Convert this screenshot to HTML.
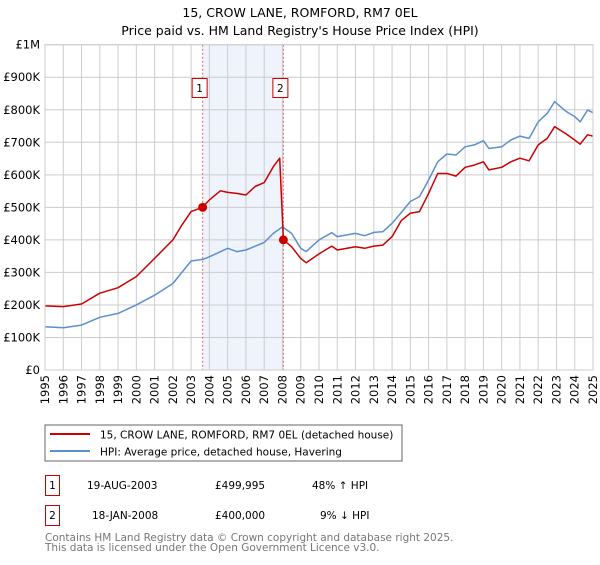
<!DOCTYPE html>
<html><head><meta charset="utf-8"><style>
body{margin:0;background:#fff;font-family:"Liberation Sans","DejaVu Sans",sans-serif;}
svg text{font-family:"DejaVu Sans","Liberation Sans",sans-serif;}
</style></head><body>
<svg id="chart" width="600" height="560" xmlns="http://www.w3.org/2000/svg">
<text x="300" y="17" text-anchor="middle" font-size="12.5" fill="#000">15, CROW LANE, ROMFORD, RM7 0EL</text>
<text x="300" y="35" text-anchor="middle" font-size="12.5" fill="#000">Price paid vs. HM Land Registry's House Price Index (HPI)</text>
<g id="plot"></g>
<rect x="45" y="425" width="357" height="36" fill="#fff" stroke="#666"/>
<line x1="50" y1="434" x2="90" y2="434" stroke="#cc0000" stroke-width="2"/>
<text x="100" y="438.5" font-size="10.5">15, CROW LANE, ROMFORD, RM7 0EL (detached house)</text>
<line x1="50" y1="451" x2="90" y2="451" stroke="#5b8fd0" stroke-width="2"/>
<text x="100" y="455.5" font-size="10.5">HPI: Average price, detached house, Havering</text>
<g font-size="10.5" fill="#000">
<rect x="45.5" y="475.5" width="14" height="20" fill="#fff" stroke="#cc0000"/>
<text x="52.5" y="489" text-anchor="middle">1</text>
<text x="87" y="489">19-AUG-2003</text>
<text x="215" y="489">£499,995</text>
<text x="312" y="489">48% ↑ HPI</text>
<rect x="45.5" y="505.5" width="14" height="20" fill="#fff" stroke="#cc0000"/>
<text x="52.5" y="519" text-anchor="middle">2</text>
<text x="92" y="519">18-JAN-2008</text>
<text x="215" y="519">£400,000</text>
<text x="320" y="519">9% ↓ HPI</text>
</g>
<text x="45" y="541" font-size="10.5" fill="#777">Contains HM Land Registry data © Crown copyright and database right 2025.</text>
<text x="45" y="551" font-size="10.5" fill="#777">This data is licensed under the Open Government Licence v3.0.</text>
</svg>
<script>
const yTicks=[0,100000,200000,300000,400000,500000,600000,700000,800000,900000,1000000];
const yTickLabels=["£0","£100K","£200K","£300K","£400K","£500K","£600K","£700K","£800K","£900K","£1M"];
const xYears=[1995,1996,1997,1998,1999,2000,2001,2002,2003,2004,2005,2006,2007,2008,2009,2010,2011,2012,2013,2014,2015,2016,2017,2018,2019,2020,2021,2022,2023,2024,2025];
const hpiT=[1995,1996,1997,1998,1999,2000,2001,2002,2003,2003.63,2004,2005,2005.5,2006,2007,2007.5,2008,2008.5,2009,2009.3,2010,2010.7,2011,2012,2012.5,2013,2013.5,2014,2014.5,2015,2015.5,2016,2016.5,2017,2017.5,2018,2018.5,2019,2019.3,2020,2020.5,2021,2021.5,2022,2022.5,2022.9,2023.5,2024,2024.3,2024.7,2025];
const hpiV=[133,130,138,162,174,200,230,266,335,340,348,374,364,369,392,420,440,420,374,364,400,422,410,420,413,423,425,451,484,518,533,584,640,664,661,686,692,705,681,686,707,719,712,763,789,825,796,779,763,799,791];
const propT=[1995,1996,1997,1998,1999,2000,2001,2002,2002.5,2003,2003.63,2004,2004.6,2005,2005.5,2006,2006.5,2007,2007.5,2007.85,2008.05,2008.5,2009,2009.3,2010,2010.7,2011,2012,2012.5,2013,2013.5,2014,2014.5,2015,2015.5,2016,2016.5,2017,2017.5,2018,2018.5,2019,2019.3,2020,2020.5,2021,2021.5,2022,2022.5,2022.9,2023.5,2024,2024.3,2024.7,2025];
const propV=[197,195,203,236,253,287,343,400,446,487,500,523,551,546,543,538,564,576,625,651,400,379,343,330,357,381,369,379,374,381,384,410,459,482,487,543,604,604,596,623,630,640,615,623,640,651,643,692,712,748,727,707,694,723,719];
const saleT=[2003.63,2008.05];
const saleV=[499995,400000];
const saleLabels=["1","2"];

const L=45,R=593,T=44.7,B=370;
const xs=t=>L+(t-1995)*(R-L)/30;
const ys=v=>B-v/1000000*(B-T);
const g=document.getElementById('plot');
const NS='http://www.w3.org/2000/svg';
function mk(tag,attrs){const e=document.createElementNS(NS,tag);for(const k in attrs)e.setAttribute(k,attrs[k]);g.appendChild(e);return e;}
let sh=mk('rect',{x:xs(saleT[0]),y:T,width:xs(saleT[1])-xs(saleT[0]),height:B-T,fill:'#eef3fc'});


yTicks.forEach((v,i)=>{
 let l=mk('line',{x1:L,x2:R,y1:ys(v),y2:ys(v),stroke:'#ccc','stroke-width':1});
 
 
 let t=mk('text',{x:L-5,y:ys(v)+4,'text-anchor':'end','font-size':'11.5',fill:'#000'});t.textContent=yTickLabels[i];
 
 
});
xYears.forEach(y=>{
 let l=mk('line',{x1:xs(y),x2:xs(y),y1:T,y2:B,stroke:'#ccc','stroke-width':1});
 
 
 let t=mk('text',{x:0,y:0,'font-size':'11.5','text-anchor':'end',transform:`translate(${xs(y)+4},375) rotate(-90)`});t.textContent=y;
 
 
});
saleT.forEach((t,i)=>{
 let l=mk('line',{x1:xs(t),x2:xs(t),y1:T,y2:B,stroke:'#e06666','stroke-dasharray':'2,2','stroke-width':1});
 
 
 let r=mk('rect',{x:xs(t)-10.5,y:78.5,width:15,height:19,fill:'#fff',stroke:'#cc0000'});
 
 
 let tx=mk('text',{x:xs(t)-3,y:92,'text-anchor':'middle','font-size':'10.5'});tx.textContent=saleLabels[i];
 
 
});
function path(ts,vs,color,name){
 const d=ts.map((t,i)=>(i?'L':'M')+xs(t).toFixed(1)+','+ys(vs[i]*1000).toFixed(1)).join('');
 let p=mk('path',{d:d,fill:'none',stroke:color,'stroke-width':1.5,'stroke-linejoin':'round'});
 
 
}
path(hpiT,hpiV,'#5b8fd0','hpi-line');
path(propT,propV,'#cc0000','property-line');
saleT.forEach((t,i)=>{
 let c=mk('circle',{cx:xs(t),cy:ys(saleV[i]),r:4.5,fill:'#cc0000'});
 
 
});
let ax=mk('rect',{x:L,y:T,width:R-L,height:B-T,fill:'none',stroke:'#ccc'});


</script>
</body></html>
